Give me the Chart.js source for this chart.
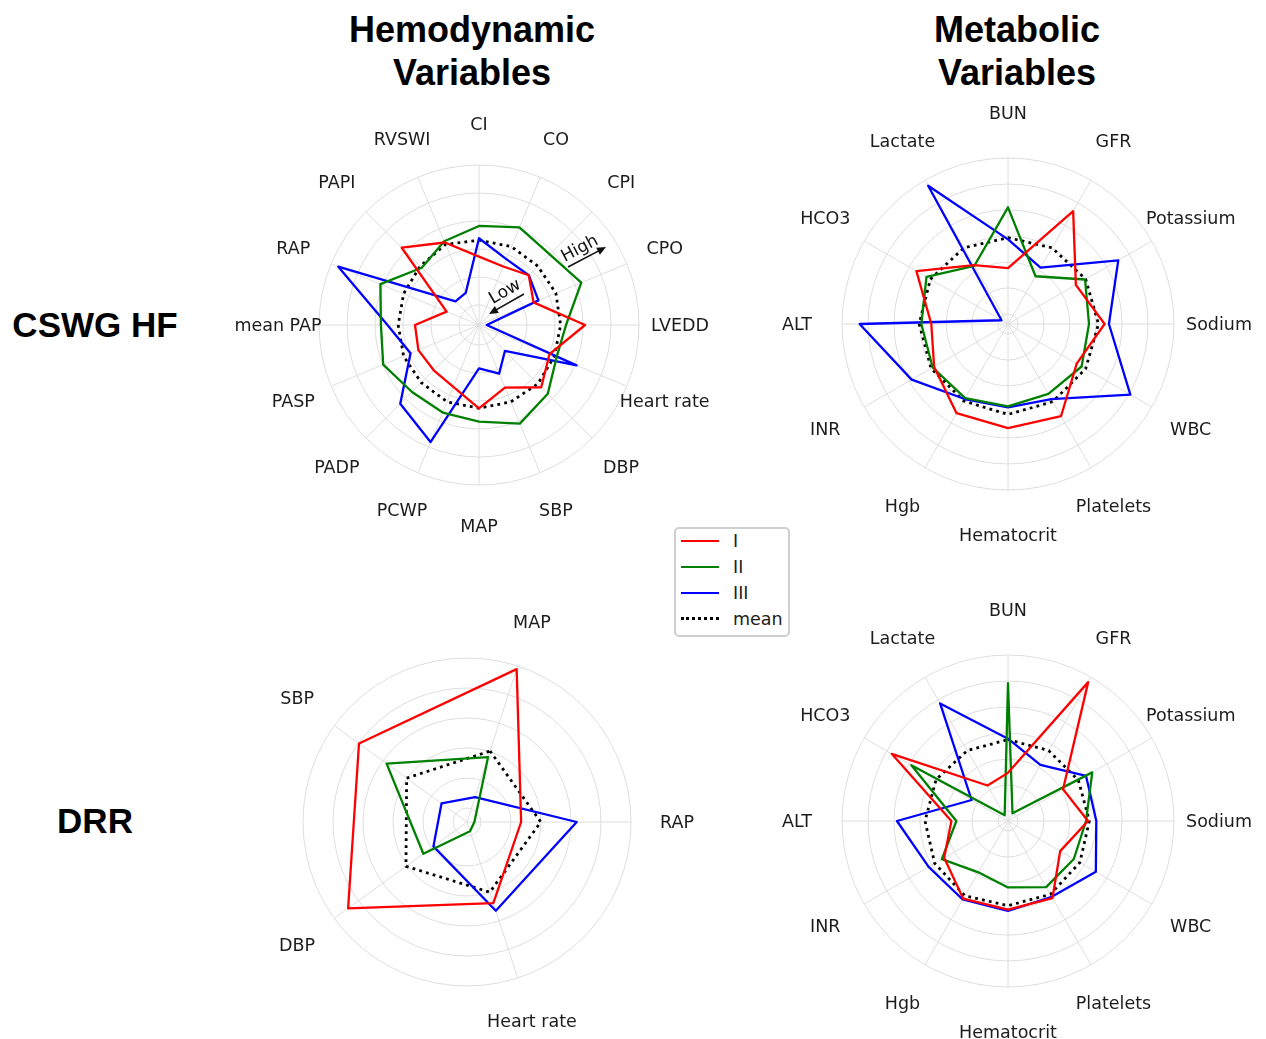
<!DOCTYPE html>
<html><head><meta charset="utf-8">
<script src="https://cdn.jsdelivr.net/npm/chart.js@4"></script>
<style>
html,body{margin:0;padding:0;background:#fff;width:1266px;height:1039px;overflow:hidden;position:relative}
canvas{position:absolute}
.title{position:absolute;font-family:"Liberation Sans",Arial,sans-serif;font-weight:bold;font-size:36px;line-height:43px;text-align:center;color:#000;width:400px}
.row{position:absolute;font-family:"Liberation Sans",Arial,sans-serif;font-weight:bold;font-size:35px;line-height:40px;color:#000;white-space:nowrap;text-align:center;width:200px}
#legend{position:absolute;left:674px;top:527px;width:112px;height:106px;border:2px solid #cfcfcf;border-radius:5px;background:#fff;font-family:"DejaVu Sans",sans-serif;font-size:17.5px;color:#1c1c1c;z-index:10}
.sw{position:absolute;left:5px;width:38px;height:0}
.lt{position:absolute;left:57px;height:22px;line-height:22px}
</style>
</head><body>
<div class="title" style="left:272px;top:8px">Hemodynamic<br>Variables</div>
<div class="title" style="left:817px;top:8px">Metabolic<br>Variables</div>
<div class="row" style="left:-5px;top:305px">CSWG HF</div>
<div class="row" style="left:-5px;top:801px">DRR</div>

<canvas id="tl" width="560" height="560" style="left:199px;top:45px"></canvas>
<canvas id="tr" width="560" height="560" style="left:728px;top:44px"></canvas>
<canvas id="bl" width="560" height="560" style="left:187px;top:542px"></canvas>
<canvas id="br" width="560" height="560" style="left:728px;top:541px"></canvas>

<div id="legend">
  <div class="sw" style="top:11px;border-top:2px solid #ff0000"></div><div class="lt" style="top:1px">I</div>
  <div class="sw" style="top:37px;border-top:2px solid #008000"></div><div class="lt" style="top:27px">II</div>
  <div class="sw" style="top:63px;border-top:2px solid #0000ff"></div><div class="lt" style="top:53px">III</div>
  <div class="sw" style="top:88px;border-top:3px dotted #000"></div><div class="lt" style="top:79px">mean</div>
</div>

<script>
// ---- Data (values as fraction of the outer radius) ----
const hemoLabels = ['CI','CO','CPI','CPO','LVEDD','Heart rate','DBP','SBP','MAP','PCWP','PADP','PASP','mean PAP','RAP','PAPI','RVSWI'];
const hemoI    = [0.427,0.396,0.44,0.369,0.663,0.477,0.55,0.423,0.521,0.419,0.40,0.41,0.40,0.219,0.683,0.558];
const hemoII   = [0.619,0.66,0.625,0.692,0.544,0.525,0.608,0.667,0.604,0.592,0.592,0.648,0.613,0.667,0.506,0.567];
const hemoIII  = [0.542,0.446,0.44,0.402,0.048,0.66,0.229,0.329,0.271,0.792,0.696,0.463,0.572,0.952,0.208,0.217];
const hemoMean = [0.53,0.53,0.52,0.52,0.51,0.51,0.52,0.52,0.52,0.52,0.51,0.51,0.505,0.51,0.52,0.545];

const metaLabels = ['BUN','GFR','Potassium','Sodium','WBC','Platelets','Hematocrit','Hgb','INR','ALT','HCO3','Lactate'];
const metaTopI    = [0.337,0.785,0.472,0.582,0.478,0.64,0.627,0.62,0.514,0.462,0.637,0.41];
const metaTopII   = [0.703,0.332,0.536,0.488,0.512,0.486,0.496,0.516,0.524,0.522,0.567,0.405];
const metaTopIII  = [0.51,0.392,0.767,0.608,0.851,0.522,0.502,0.522,0.67,0.894,0.045,0.962];
const metaTopMean = [0.52,0.53,0.54,0.545,0.54,0.54,0.545,0.535,0.535,0.535,0.54,0.53];

const metaBotI    = [0.29,0.966,0.383,0.482,0.363,0.536,0.534,0.54,0.444,0.341,0.809,0.247];
const metaBotII   = [0.83,0.054,0.586,0.47,0.458,0.46,0.40,0.357,0.46,0.311,0.672,0.04];
const metaBotIII  = [0.496,0.39,0.543,0.532,0.611,0.527,0.542,0.546,0.552,0.669,0.253,0.818];
const metaBotMean = [0.49,0.49,0.49,0.49,0.50,0.51,0.51,0.52,0.51,0.50,0.50,0.49];

const drrLabels = ['MAP','RAP','Heart rate','DBP','SBP'];
const drrI    = [0.98,0.33,0.52,0.896,0.814];
const drrII   = [0.416,0.045,0.059,0.329,0.606];
const drrIII  = [0.16,0.669,0.569,0.253,0.192];
const drrMean = [0.455,0.45,0.45,0.46,0.455];

const seriesNames = ['I','II','III','mean'];

// ---- grid ring positions (fraction of radius) ----
const ringsHemo = [0.125,0.30,0.475,0.65,0.825,1];
const ringsMeta = [0.06,0.217,0.373,0.53,0.687,0.843,1];
const ringsDrr  = [0.085,0.268,0.451,0.634,0.817,1];

const labelPlugin = {
  id: 'outerLabels',
  afterDraw(chart, args, opts) {
    const s = chart.scales.r, ctx = chart.ctx;
    ctx.save();
    ctx.font = '17.5px "DejaVu Sans", sans-serif';
    ctx.fillStyle = '#1c1c1c';
    ctx.textAlign = 'center';
    ctx.textBaseline = 'middle';
    chart.data.labels.forEach((lab, i) => {
      const p = s.getPointPosition(i, opts.radius);
      ctx.fillText(lab, p.x, p.y + 1);
    });
    ctx.restore();
  }
};

const hiLoPlugin = {
  id: 'hiLo',
  afterDraw(chart) {
    const s = chart.scales.r, ctx = chart.ctx, cx = s.xCenter, cy = s.yCenter;
    function arrow(x1, y1, x2, y2) {
      const a = Math.atan2(y2 - y1, x2 - x1), L = 9, W = 4;
      ctx.beginPath();
      ctx.moveTo(cx + x1, cy + y1);
      ctx.lineTo(cx + x2 - L * Math.cos(a) * 0.8, cy + y2 - L * Math.sin(a) * 0.8);
      ctx.stroke();
      ctx.beginPath();
      ctx.moveTo(cx + x2, cy + y2);
      ctx.lineTo(cx + x2 - L * Math.cos(a) + W * Math.sin(a), cy + y2 - L * Math.sin(a) - W * Math.cos(a));
      ctx.lineTo(cx + x2 - L * Math.cos(a) - W * Math.sin(a), cy + y2 - L * Math.sin(a) + W * Math.cos(a));
      ctx.closePath();
      ctx.fill();
    }
    function text(t, x, y, deg) {
      ctx.save();
      ctx.translate(cx + x, cy + y);
      ctx.rotate(deg * Math.PI / 180);
      ctx.fillText(t, 0, 0);
      ctx.restore();
    }
    ctx.save();
    ctx.strokeStyle = '#111'; ctx.fillStyle = '#111'; ctx.lineWidth = 1.6;
    ctx.font = '17px "DejaVu Sans", sans-serif';
    ctx.textAlign = 'center'; ctx.textBaseline = 'middle';
    arrow(89, -58, 127, -78);
    arrow(45, -31, 10, -11);
    text('High', 101, -76, -28);
    text('Low', 26, -33, -30);
    ctx.restore();
  }
};

function makeChart(id, labels, I, II, III, M, rings, R, startAngle, labelRadius, extra) {
  const colors = ['#ff0000', '#008000', '#0000ff', '#000000'];
  const vals = [I, II, III, M];
  const datasets = vals.map((d, k) => ({
    label: seriesNames[k],
    data: d,
    borderColor: colors[k],
    borderWidth: k === 3 ? 2.8 : 2.3,
    borderDash: k === 3 ? [2.8, 4.2] : [],
    borderJoinStyle: 'round',
    pointRadius: 0,
    pointHoverRadius: 0,
    fill: false,
    tension: 0
  }));
  return new Chart(document.getElementById(id), {
    type: 'radar',
    data: { labels, datasets },
    options: {
      responsive: false,
      animation: false,
      events: [],
      layout: { padding: 280 - R },
      plugins: {
        legend: { display: false },
        tooltip: { enabled: false },
        outerLabels: { radius: labelRadius }
      },
      scales: {
        r: {
          min: 0, max: 1,
          startAngle: startAngle,
          ticks: { display: false },
          grid: { circular: true, color: '#dedede', lineWidth: 1 },
          angleLines: { color: '#dedede', lineWidth: 1 },
          pointLabels: { display: false },
          afterBuildTicks: (sc) => { sc.ticks = [0].concat(rings).map(v => ({ value: v })); }
        }
      }
    },
    plugins: [labelPlugin].concat(extra || [])
  });
}

makeChart('tl', hemoLabels, hemoI, hemoII, hemoIII, hemoMean, ringsHemo, 160, 0, 201, [hiLoPlugin]);
makeChart('tr', metaLabels, metaTopI, metaTopII, metaTopIII, metaTopMean, ringsMeta, 166, 0, 211);
makeChart('bl', drrLabels, drrI, drrII, drrIII, drrMean, ringsDrr, 164, 18, 210);
makeChart('br', metaLabels, metaBotI, metaBotII, metaBotIII, metaBotMean, ringsMeta, 166, 0, 211);
</script>
</body></html>
